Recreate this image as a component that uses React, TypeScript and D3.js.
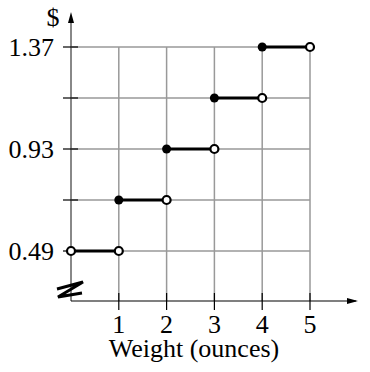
import * as d3 from 'd3';
import React from 'react';

// step segments: [from, to) ounces at price
const stepStart = [0, 1, 2, 3, 4];
const stepEnd = [1, 2, 3, 4, 5];
const prices = [0.49, 0.71, 0.93, 1.15, 1.37];
const startClosed = [false, true, true, true, true];

const xTicks = [1, 2, 3, 4, 5];
const yTicks = [0.49, 0.71, 0.93, 1.15, 1.37];
const yLabels = ['0.49', '', '0.93', '', '1.37'];

const W = 370;
const H = 372;
const font = '"Liberation Serif", "Times New Roman", serif';

const App: React.FC = () => {
  const x = d3.scaleLinear().domain([0, 5]).range([71, 310]);
  const y = d3.scaleLinear().domain([0.49, 1.37]).range([251, 47]);
  const axisY = 301;
  const grid = '#999';

  return (
    <svg width={W} height={H} style={{ position: 'absolute', left: 0, top: 0 }}>
      <rect width={W} height={H} fill="#fff" />
      {/* horizontal grid */}
      {yTicks.map((t) => (
        <line key={'h' + t} x1={x(0)} x2={x(5)} y1={y(t)} y2={y(t)} stroke={grid} strokeWidth={1.5} />
      ))}
      {/* vertical grid */}
      {xTicks.map((t) => (
        <line key={'v' + t} x1={x(t)} x2={x(t)} y1={y(1.37)} y2={axisY} stroke={grid} strokeWidth={1.5} />
      ))}
      {/* y axis */}
      <line x1={x(0)} x2={x(0)} y1={axisY} y2={20} stroke="#888" strokeWidth={2} />
      <path d={`M${x(0)},12 L${x(0) - 3},23 L${x(0) + 3},23 Z`} fill="#000" />
      {/* x axis */}
      <line x1={x(0)} x2={356} y1={axisY} y2={axisY} stroke="#000" strokeWidth={1.2} />
      <path d={`M358,${axisY} L347,${axisY - 3} L347,${axisY + 3} Z`} fill="#000" />
      {/* axis break */}
      <path d="M57,289 L83,282 L58,297 L82,293" fill="none" stroke="#000" strokeWidth={3} strokeLinejoin="miter" />
      {/* y ticks */}
      {yTicks.map((t, i) => (
        <g key={'yt' + t}>
          <line x1={63} x2={78} y1={y(t)} y2={y(t)} stroke="#000" strokeWidth={1.2} />
          {yLabels[i] && (
            <text x={54} y={y(t)} dy="0.35em" textAnchor="end" fontFamily={font} fontSize={26}>
              {yLabels[i]}
            </text>
          )}
        </g>
      ))}
      {/* x ticks */}
      {xTicks.map((t) => (
        <g key={'xt' + t}>
          <line x1={x(t)} x2={x(t)} y1={293} y2={310} stroke="#000" strokeWidth={1.2} />
          <text x={x(t)} y={333} textAnchor="middle" fontFamily={font} fontSize={26}>
            {t}
          </text>
        </g>
      ))}
      <text x={194} y={357} textAnchor="middle" fontFamily={font} fontSize={26}>
        Weight (ounces)
      </text>
      <text x={53} y={26} textAnchor="middle" fontFamily={font} fontSize={26}>
        $
      </text>
      {/* steps */}
      {prices.map((p, i) => (
        <g key={'s' + i}>
          <line x1={x(stepStart[i])} x2={x(stepEnd[i])} y1={y(p)} y2={y(p)} stroke="#000" strokeWidth={3} />
          {startClosed[i] ? (
            <circle cx={x(stepStart[i])} cy={y(p)} r={4.5} fill="#000" />
          ) : (
            <circle cx={x(stepStart[i])} cy={y(p)} r={4} fill="#fff" stroke="#000" strokeWidth={2.2} />
          )}
          <circle cx={x(stepEnd[i])} cy={y(p)} r={4} fill="#fff" stroke="#000" strokeWidth={2.2} />
        </g>
      ))}
    </svg>
  );
};

export default App;
